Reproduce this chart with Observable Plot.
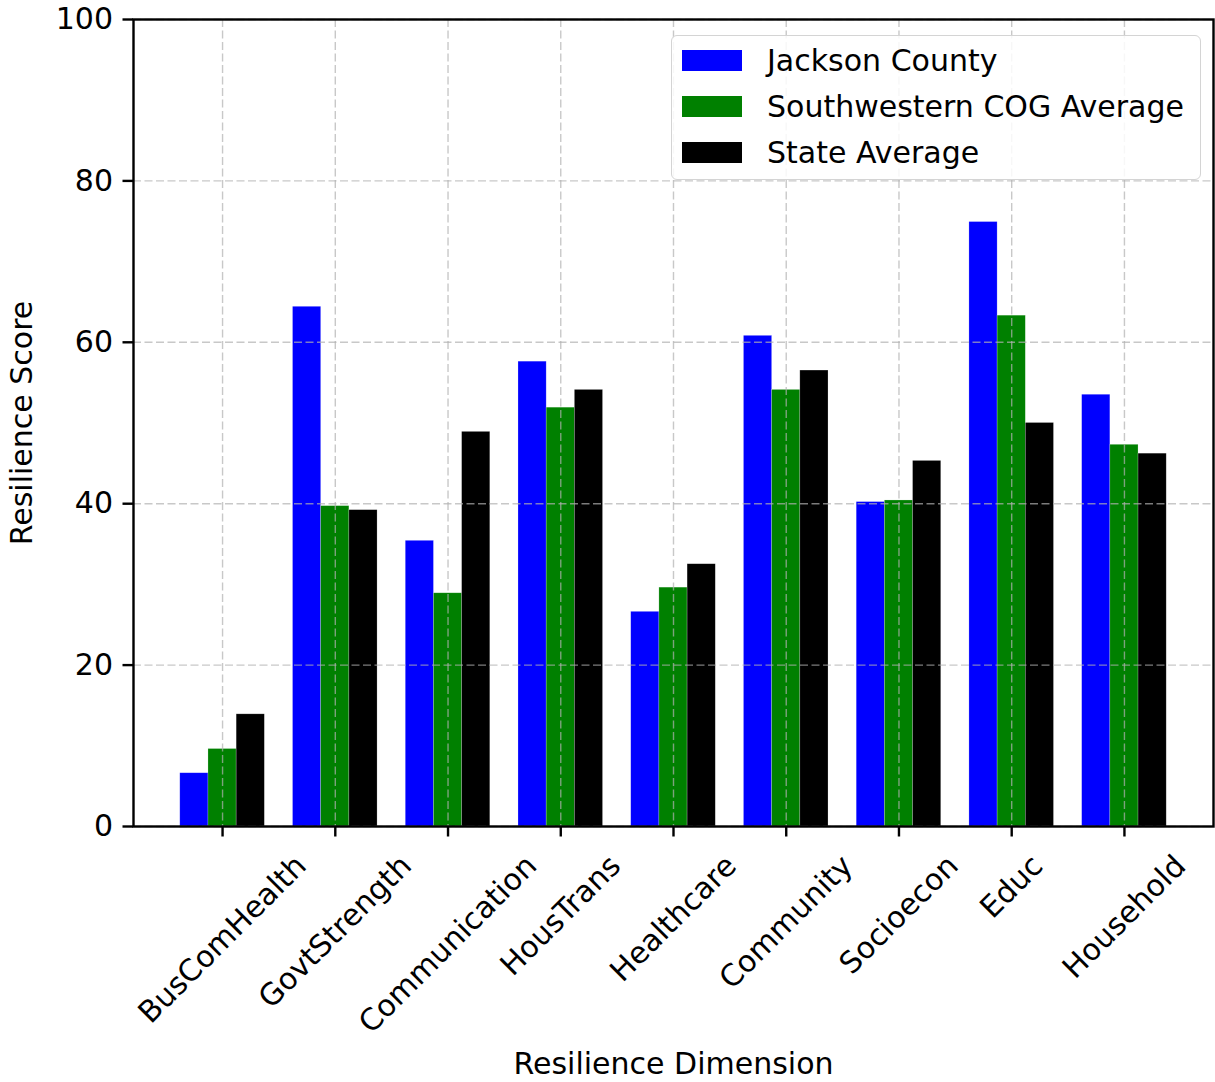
<!DOCTYPE html>
<html>
<head>
<meta charset="utf-8">
<script src="https://cdn.jsdelivr.net/npm/d3@7"></script>
<script src="https://cdn.jsdelivr.net/npm/@observablehq/plot@0.6"></script>
<style>
  html, body { margin: 0; padding: 0; background: #fff; }
  #wrap { position: relative; width: 1215px; height: 1082px; font-family: "DejaVu Sans", sans-serif; }
  #legend { position: absolute; left: 671px; top: 35px; width: 528px; height: 143px;
    border: 1.5px solid #d4d4d4; border-radius: 6px; background: rgba(255,255,255,0.85);
    box-sizing: content-box; }
  .row { position: absolute; left: 10px; height: 32px; display: flex; align-items: center; font-size: 30px; color: #000; white-space: nowrap; }
  .sw { width: 60px; height: 21px; margin-right: 25px; }
</style>
</head>
<body>
<div id="wrap"><div id="legend"></div></div>
<script>
const categories = ["BusComHealth", "GovtStrength", "Communication", "HousTrans", "Healthcare", "Community", "Socioecon", "Educ", "Household"];
const jackson = [6.6, 64.4, 35.4, 57.6, 26.6, 60.8, 40.2, 74.9, 53.5];
const cog     = [9.6, 39.7, 28.9, 51.9, 29.6, 54.1, 40.4, 63.3, 47.3];
const state   = [13.9, 39.2, 48.9, 54.1, 32.5, 56.5, 45.3, 50.0, 46.2];
const seriesNames = ["Jackson County", "Southwestern COG Average", "State Average"];
const seriesColors = ["#0000ff", "#008000", "#000000"];
const yTicks = [0, 20, 40, 60, 80, 100];

const seriesValues = [jackson, cog, state];
const barWidth = 0.25;
const rows = [];
seriesValues.forEach((vals, s) => {
  vals.forEach((v, i) => {
    const c = i + (s - 1) * barWidth;
    rows.push({cat: categories[i], series: seriesNames[s], x1: c - barWidth / 2, x2: c + barWidth / 2, value: v});
  });
});

const FONT = "DejaVu Sans";
const FS = 30;
const canvas = document.createElement("canvas");
const ctx = canvas.getContext("2d");
ctx.font = `${FS}px "${FONT}"`;
const H = 35;

const labelMarks = categories.map((c, i) => {
  const L = ctx.measureText(c).width;
  const dy = 22 + (L + H) / (2 * Math.SQRT2);
  return Plot.text([c], {x: () => i, y: () => 0, text: d => d, rotate: -45, textAnchor: "middle", lineAnchor: "middle", dy, fontSize: FS, fill: "#000"});
});

const chart = Plot.plot({
  width: 1215,
  height: 1082,
  marginLeft: 133,
  marginRight: 2,
  marginTop: 19,
  marginBottom: 256,
  style: {fontFamily: FONT, fontSize: FS + "px", color: "#000", background: "transparent", overflow: "visible"},
  x: {domain: [-0.79, 8.79]},
  y: {domain: [0, 100]},
  color: {domain: seriesNames, range: seriesColors},
  marks: [
    Plot.rect(rows, {x1: "x1", x2: "x2", y1: 0, y2: "value", fill: "series", stroke: "#ffffff", strokeWidth: 0.6, strokeOpacity: 0.35}),
    Plot.gridX(d3.range(categories.length), {stroke: "#b0b0b0", strokeOpacity: 0.7, strokeWidth: 1.4, strokeDasharray: "8,3.5"}),
    Plot.gridY(yTicks, {stroke: "#b0b0b0", strokeOpacity: 0.7, strokeWidth: 1.4, strokeDasharray: "8,3.5"}),
    Plot.frame({stroke: "#000", strokeWidth: 2.4}),
    Plot.axisY(yTicks, {tickSize: 10.5, tickPadding: 10, strokeWidth: 2.4, fontSize: FS, label: null, tickFormat: d => String(d)}),
    Plot.axisX(d3.range(categories.length), {tickSize: 10.5, strokeWidth: 2.4, tickFormat: () => "", label: null}),
    ...labelMarks,
    Plot.text(["Resilience Score"], {frameAnchor: "left", dx: -111, rotate: -90, textAnchor: "middle", lineAnchor: "middle", fontSize: FS, fill: "#000"}),
    Plot.text(["Resilience Dimension"], {frameAnchor: "bottom", dy: 238, textAnchor: "middle", lineAnchor: "middle", fontSize: FS, fill: "#000"})
  ]
});
const wrap = document.getElementById("wrap");
wrap.insertBefore(chart, wrap.firstChild);

const legend = document.getElementById("legend");
seriesNames.forEach((n, s) => {
  const r = document.createElement("div");
  r.className = "row";
  r.style.top = (8 + s * 46) + "px";
  const sw = document.createElement("div");
  sw.className = "sw";
  sw.style.background = seriesColors[s];
  const t = document.createElement("span");
  t.textContent = n;
  r.appendChild(sw);
  r.appendChild(t);
  legend.appendChild(r);
});
</script>
</body>
</html>
